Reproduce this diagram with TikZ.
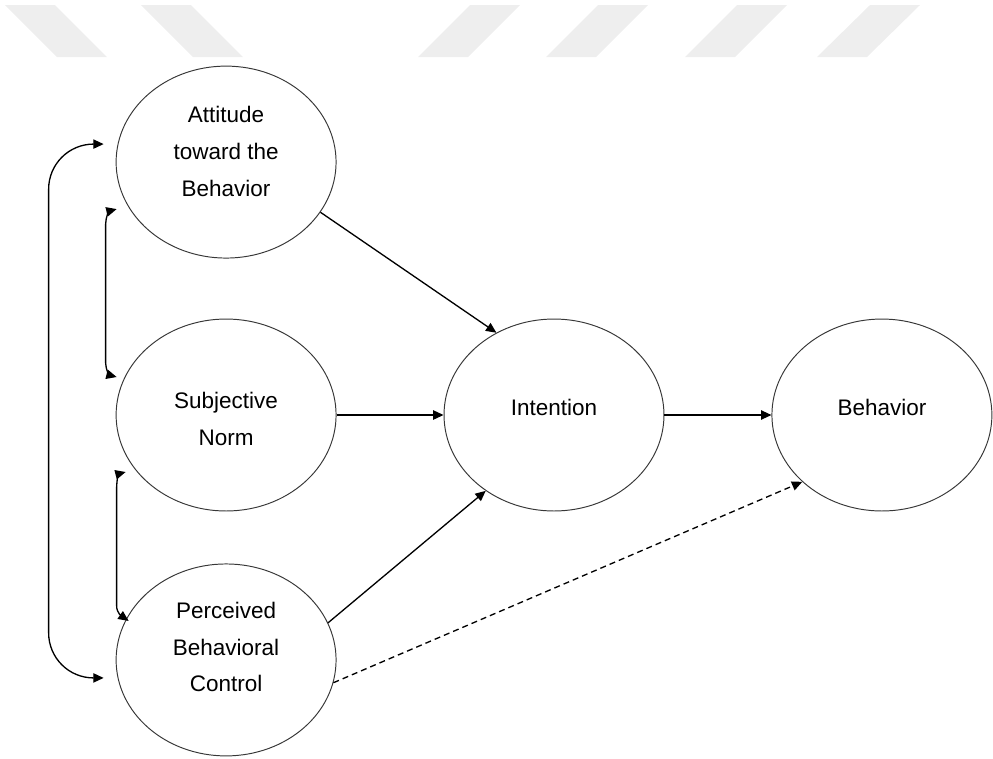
\documentclass[tikz,border=0pt]{standalone}
\usepackage{fontspec}
\setmainfont{Liberation Sans}
\usepackage{xcolor}
\definecolor{wmgray}{RGB}{238,238,238}
\definecolor{rim}{RGB}{55,55,55}
\usepackage{tikz}
\usetikzlibrary{matrix}
\usetikzlibrary{shapes.geometric}
\usetikzlibrary{positioning}
\usetikzlibrary{arrows.meta}
\usetikzlibrary{calc}
\newcommand{\ovaltext}[2]{\raisebox{#1}[0pt][0pt]{\begin{tabular}{@{}c@{}}#2\end{tabular}}}

\begin{document}
\begin{tikzpicture}[x=0.02cm,y=-0.02cm,
  stage/.style={draw=rim,line width=0.55pt,ellipse,minimum width=4.4cm,minimum height=3.84cm,inner sep=0pt,align=center,font=\fontsize{12.8}{21}\selectfont},
  link/.style={line width=0.75pt,-{Triangle[length=5.9pt,width=5.3pt]}},
  both/.style={line width=0.75pt,{Triangle[length=5.9pt,width=5.3pt]}-{Triangle[length=5.9pt,width=5.3pt]}},
  wmark/.style={fill=wmgray}]
\useasboundingbox (0,0) rectangle (993,758);
% watermark strips
\foreach \xa/\dx in {5/52,141/52,470/-52,598/-52,737/-52,870/-53}
  \fill[wmark] (\xa,5) -- ++(50,0) -- ++(\dx,52) -- ++(-50,0) -- cycle;
\matrix (tpb) at (554,411) [column sep=2.14cm,row sep=1.04cm]
{
\node[stage] (att) {\ovaltext{2.9pt}{Attitude\\toward the\\Behavior}}; & & \\[0.16cm]
\node[stage] (sub) {\ovaltext{-5.7pt}{Subjective\\Norm}}; & \node[stage] (int) {\ovaltext{1.1pt}{Intention}}; & \node[stage] (beh) {\ovaltext{1.1pt}{Behavior}}; \\
\node[stage] (per) {\ovaltext{4pt}{Perceived\\Behavioral\\Control}}; & & \\
};
\draw[link] (att.-28) -- (int.125);
\draw[link] (sub.east) -- (int.west);
\draw[link] (per.20) -- (int.228);
\draw[link] (int.east) -- (beh.west);
\draw[link,dash pattern=on 3.4pt off 2.3pt] (per.-12) -- (beh.220);
% correlations on the left
\draw[both,rounded corners=0.9cm] ($(att.west)+(-12,-18)$) -| ($(per.west)+(-67,18)$) -- ($(per.west)+(-12,18)$);
\draw[both] ($(att.west)+(1,47)$) to[out=195,in=90] ($(att.west)+(-10,62)$) -- ($(sub.west)+(-10,-52)$) to[out=-90,in=165] ($(sub.west)+(1,-38)$);
\draw[both] ($(sub.west)+(10,57)$) to[out=195,in=90] ($(sub.west)+(1,72)$) -- ($(per.west)+(1,-54)$) to[out=-90,in=145] ($(per.west)+(13,-39)$);
\end{tikzpicture}
\end{document}
